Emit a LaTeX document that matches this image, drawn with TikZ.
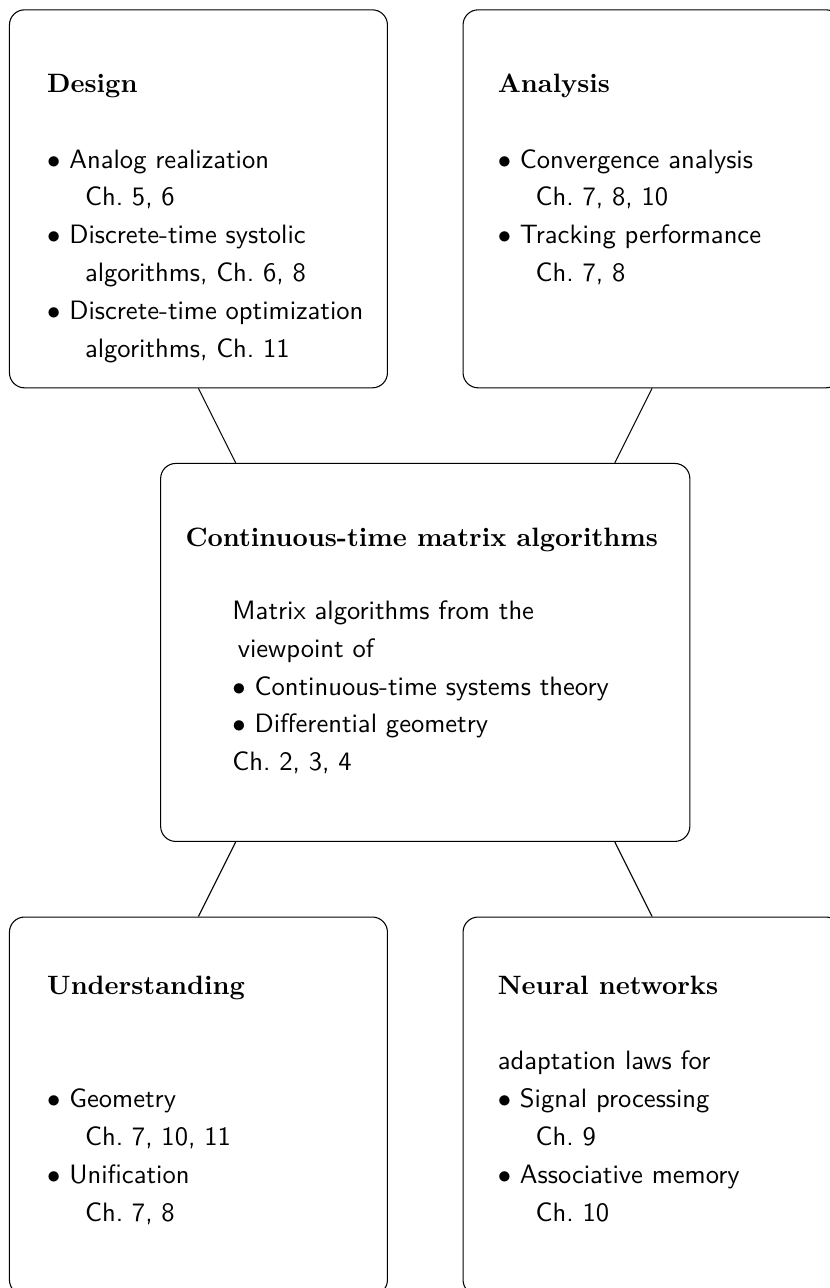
\documentclass[tikz,border=0pt]{standalone}
\usepackage{amsmath, amssymb}
\usepackage{tikz}
\usetikzlibrary{calc}

\newcommand{\itm}{$\bullet$\ }
\newcommand{\cont}{\hspace*{0.5cm}}
\newcommand{\rows}[1]{\begin{tabular}[t]{@{}l@{}}#1\end{tabular}}

\tikzset{
  block/.style = {draw, rounded corners = 0.2cm, minimum width = 5cm, minimum height = 5cm, inner sep = 0pt},
  head/.style = {anchor = base west, inner sep = 0pt, font = \rmfamily\bfseries},
  body/.style = {anchor = base west, inner sep = 0pt, font = \sffamily\fontsize{10}{14.23}\selectfont},
}

\begin{document}
\begin{tikzpicture}
			\useasboundingbox (-0.125,0.13) rectangle (10.841,-16.907);

			\begin{scope}
				\node [block] (design) at (2.5,-2.5) {};
				\node [block] (analysis) at (8.5,-2.5) {};
				\node [block, minimum width = 7cm] (core) at (5.5,-8.5) {};
				\node [block] (understanding) at (2.5,-14.5) {};
				\node [block] (neural) at (8.5,-14.5) {};
			\end{scope}

			\begin{scope}
				\draw (design.south) -- ([xshift = 1cm]core.north west);
				\draw (analysis.south) -- ([xshift = -1cm]core.north east);
				\draw ([xshift = 1cm]core.south west) -- (understanding.north);
				\draw ([xshift = -1cm]core.south east) -- (neural.north);
			\end{scope}

			\node [head] (designhead) at ($(design.north west) + (0.5,-1.1)$) {Design};
			\node [body] (designbody) at ($(design.north west) + (0.5,-2.1)$) {\rows{
				\itm Analog realization \\
				\cont Ch.\ 5, 6 \\
				\itm Discrete-time systolic \\
				\cont algorithms, Ch.\ 6, 8 \\
				\itm Discrete-time optimization \\
				\cont algorithms, Ch.\ 11}};

			\node [head] (analysishead) at ($(analysis.north west) + (0.46,-1.1)$) {Analysis};
			\node [body] (analysisbody) at ($(analysis.north west) + (0.46,-2.1)$) {\rows{
				\itm Convergence analysis \\
				\cont Ch.\ 7, 8, 10 \\
				\itm Tracking performance \\
				\cont Ch.\ 7, 8}};

			\node [head] (corehead) at ($(core.north west) + (0.33,-1.1)$) {Continuous-time matrix algorithms};
			\node [body] (corebody) at ($(core.north west) + (0.95,-2.07)$) {\rows{
				Matrix algorithms from the \\
				\hspace*{2pt}viewpoint of \\
				\itm Continuous-time systems theory \\
				\itm Differential geometry \\
				Ch.\ 2, 3, 4}};

			\node [head] (understandinghead) at ($(understanding.north west) + (0.5,-1.03)$) {Understanding};
			\node [body] (understandingbody) at ($(understanding.north west) + (0.5,-2.53)$) {\rows{
				\itm Geometry \\
				\cont Ch.\ 7, 10, 11 \\
				\itm Unification \\
				\cont Ch.\ 7, 8}};

			\node [head] (neuralhead) at ($(neural.north west) + (0.46,-1.03)$) {Neural networks};
			\node [body] (neuralbody) at ($(neural.north west) + (0.46,-2.03)$) {\rows{
				adaptation laws for \\
				\itm Signal processing \\
				\cont Ch.\ 9 \\
				\itm Associative memory \\
				\cont Ch.\ 10}};
		\end{tikzpicture}
\end{document}
